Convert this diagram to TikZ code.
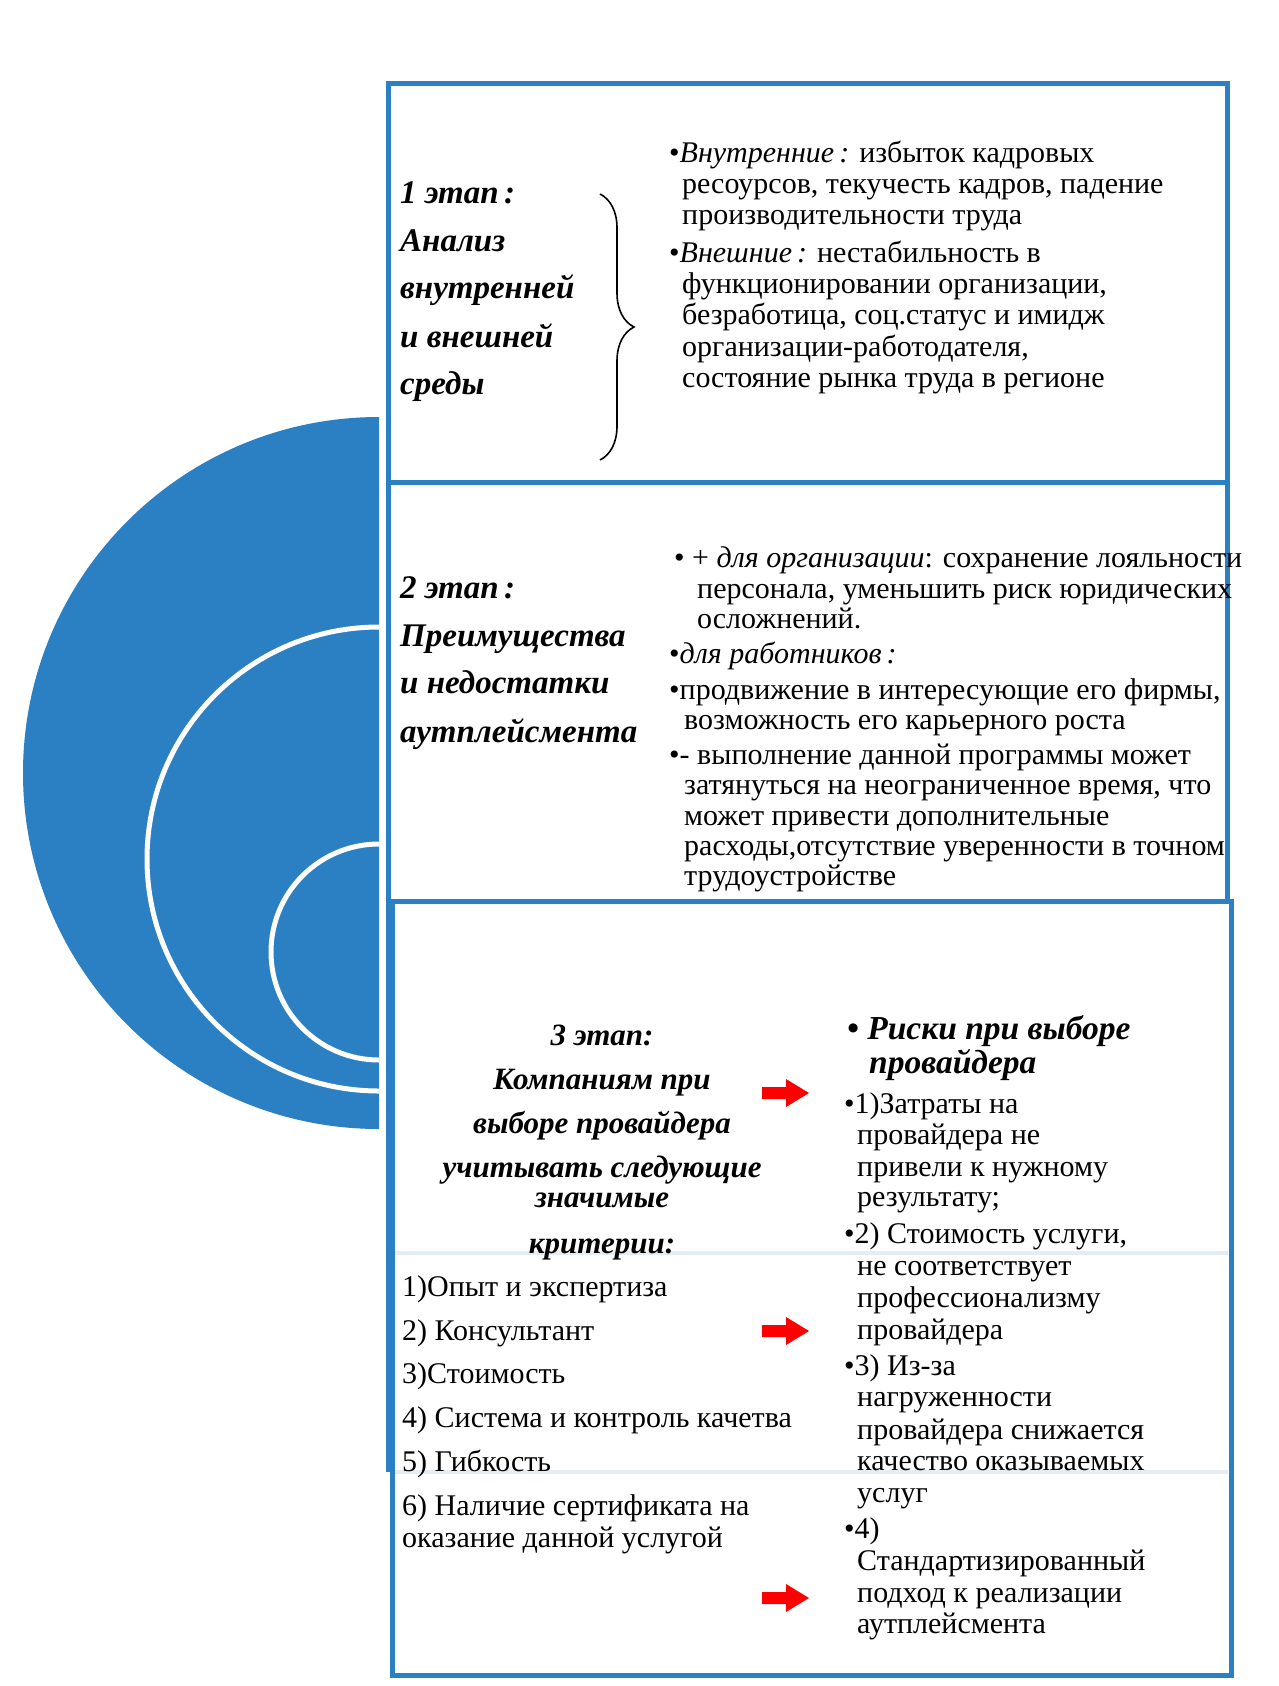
\documentclass[tikz,border=0pt]{standalone}
\usepackage{fontspec}
\setmainfont{Liberation Serif}
\usetikzlibrary{decorations.pathreplacing}
\definecolor{bl}{RGB}{42,128,194}
\definecolor{faint}{RGB}{229,236,243}
\tikzset{
  body/.style={anchor=base west, inner sep=0pt, font=\fontsize{30}{32}\selectfont},
  ttl/.style={anchor=base west, inner sep=0pt, font=\fontsize{33}{36}\selectfont\bfseries\itshape},
  ttlc/.style={anchor=base, inner sep=0pt, font=\fontsize{31}{34}\selectfont\bfseries\itshape},
  ttlr/.style={anchor=base west, inner sep=0pt, font=\fontsize{33.5}{36}\selectfont\bfseries\itshape},
  boxline/.style={draw=bl, line width=5pt},
  redarrow/.style={fill=red}
}
\newcommand{\myarrow}[1]{\fill[redarrow] (762,#1-6) -- (786,#1-6) -- (786,#1-14) -- (809,#1) -- (786,#1+14) -- (786,#1+6) -- (762,#1+6) -- cycle;}
\begin{document}
\begin{tikzpicture}[x=1pt,y=-1pt]
\useasboundingbox (0,0) rectangle (1279,1686);
\fill[white] (0,0) rectangle (1279,1686);

% blue half disc with white rings
\begin{scope}
\clip (0,0) rectangle (379,1686);
\fill[bl] (379,773) circle (356pt);
\draw[white, line width=5pt] (379,859) circle (232pt);
\draw[white, line width=5pt] (379,952) circle (108pt);
\end{scope}

% boxes
\draw[boxline] (392,901) rectangle (1231,1675);
\draw[bl, line width=5pt] (388,901) -- (388,1472);
\draw[faint, line width=4pt] (395,1253) -- (1228,1253);
\draw[faint, line width=4pt] (395,1472) -- (1228,1472);
\draw[boxline] (388,482) rectangle (1227,901);
\draw[boxline] (388,83) rectangle (1227,482);

% box 1
\node[ttl] (t1a) at (400,203) {1 этап\,:};
\node[ttl] (t1b) at (400,251) {Анализ};
\node[ttl] (t1c) at (400,298) {внутренней};
\node[ttl] (t1d) at (400,347) {и внешней};
\node[ttl] (t1e) at (400,394) {среды};
\coordinate (brtop) at (600,194);
\coordinate (brbot) at (600,460);
\draw[line width=1.6pt, decorate, decoration={brace, amplitude=34pt, aspect=0.5}] (brtop) -- (brbot);

\node[body] (b1l1) at (669,162) {•\textit{Внутренние\,:} избыток кадровых};
\node[body] (b1l2) at (682,193) {ресоурсов, текучесть кадров, падение};
\node[body] (b1l3) at (682,224) {производительности труда};
\node[body] (b1l4) at (669,262) {•\textit{Внешние\,:} нестабильность в};
\node[body] (b1l5) at (682,293) {функционировании организации,};
\node[body] (b1l6) at (682,324) {безработица, соц.статус и имидж};
\node[body] (b1l7) at (682,356) {организации-работодателя,};
\node[body] (b1l8) at (682,387) {состояние рынка труда в регионе};

% box 2
\node[ttl] (t2a) at (400,598) {2 этап\,:};
\node[ttl] (t2b) at (400,646) {Преимущества};
\node[ttl] (t2c) at (400,693) {и недостатки};
\node[ttl] (t2d) at (400,742) {аутплейсмента};

\node[body] (b2l1) at (674,567) {•\ + \textit{для организации}: сохранение лояльности};
\node[body] (b2l2) at (697,598) {персонала, уменьшить риск юридических};
\node[body] (b2l3) at (697,628) {осложнений.};
\node[body] (b2l4) at (669,663) {•\textit{для работников\,:}};
\node[body] (b2l5) at (669,699) {•продвижение в интересующие его фирмы,};
\node[body] (b2l6) at (684,729) {возможность его карьерного роста};
\node[body] (b2l7) at (669,764) {•- выполнение данной программы может};
\node[body] (b2l8) at (684,794) {затянуться на неограниченное время, что};
\node[body] (b2l9) at (684,825) {может привести дополнительные};
\node[body] (b2l10) at (684,855) {расходы,отсутствие уверенности в точном};
\node[body] (b2l11) at (684,885) {трудоустройстве};

% box 3 title
\node[ttlc] (t3a) at (602,1045) {3 этап:};
\node[ttlc] (t3b) at (602,1089) {Компаниям при};
\node[ttlc] (t3c) at (602,1133) {выборе провайдера};
\node[ttlc] (t3d) at (602,1177) {учитывать следующие};
\node[ttlc] (t3e) at (602,1207) {значимые};
\node[ttlc] (t3f) at (602,1253) {критерии:};

% box 3 list
\node[body] (c1) at (402,1296) {1)Опыт и экспертиза};
\node[body] (c2) at (402,1340) {2) Консультант};
\node[body] (c3) at (402,1383) {3)Стоимость};
\node[body] (c4) at (402,1427) {4) Система и контроль качетва};
\node[body] (c5) at (402,1471) {5) Гибкость};
\node[body] (c6) at (402,1515) {6) Наличие сертификата на};
\node[body] (c7) at (402,1547) {оказание данной услугой};

% box 3 risks
\node[ttlr] (r1) at (847,1039) {• Риски при выборе};
\node[ttlr] (r2) at (869,1073) {провайдера};
\node[body] (r3) at (844,1113) {•1)Затраты на};
\node[body] (r4) at (857,1144) {провайдера не};
\node[body] (r5) at (857,1176) {привели к нужному};
\node[body] (r6) at (857,1206) {результату;};
\node[body] (r7) at (844,1243) {•2) Стоимость услуги,};
\node[body] (r8) at (857,1275) {не соответствует};
\node[body] (r9) at (857,1307) {профессионализму};
\node[body] (r10) at (857,1339) {провайдера};
\node[body] (r11) at (844,1375) {•3) Из-за};
\node[body] (r12) at (857,1406) {нагруженности};
\node[body] (r13) at (857,1439) {провайдера снижается};
\node[body] (r14) at (857,1470) {качество оказываемых};
\node[body] (r15) at (857,1502) {услуг};
\node[body] (r16) at (844,1538) {•4)};
\node[body] (r17) at (857,1570) {Стандартизированный};
\node[body] (r18) at (857,1602) {подход к реализации};
\node[body] (r19) at (857,1633) {аутплейсмента};

% red arrows
\myarrow{1093}
\myarrow{1331}
\myarrow{1598}
\end{tikzpicture}
\end{document}
